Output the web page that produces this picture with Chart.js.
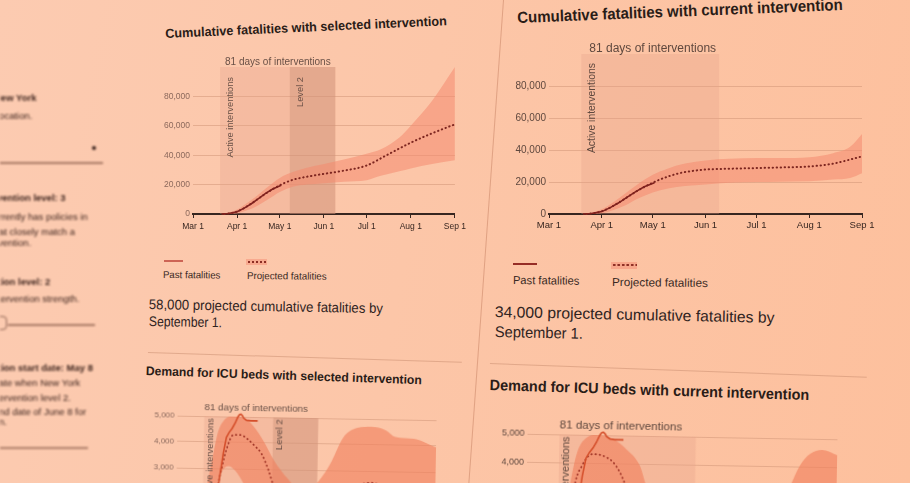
<!DOCTYPE html>
<html>
<head>
<meta charset="utf-8">
<script src="https://cdn.jsdelivr.net/npm/chart.js@4.4.1/dist/chart.umd.min.js"></script>
<style>
  body { margin:0; width:910px; height:483px; overflow:hidden; position:relative;
         background: linear-gradient(100deg, #fccbb1 0%, #fcc6a8 45%, #fdc09d 100%);
         font-family: "Liberation Sans", Arial, sans-serif; }
  .abs { position:absolute; white-space:nowrap; transform-origin:0 0; line-height:1; }
  .ttl { font-weight:bold; color:#2a1c17; }
  .par { color:#2f231e; }
  .leg { color:#3a2a24; }
  .side { position:absolute; left:0; top:0; width:115px; height:483px; overflow:hidden; filter: blur(1.1px); color:#3f261f; font-size:9.5px; }
  .side div { position:absolute; white-space:nowrap; line-height:1; }
  .side b { font-weight:bold; }
  canvas { position:absolute; transform-origin:0 0; }
</style>
</head>
<body>

<div class="side">
  <div style="left:-6px;top:93px"><b>New York</b></div>
  <div style="left:-3px;top:111px">location.</div>
  <div style="left:92px;top:146px;width:4px;height:4px;border-radius:2px;background:#3a231d"></div>
  <div style="left:0;top:162px;width:103px;height:2px;background:rgba(110,65,50,0.6)"></div>
  <div style="left:-3px;top:193px"><b>vention level: 3</b></div>
  <div style="left:-1px;top:212px">rrently has policies in</div>
  <div style="left:-1px;top:227px">at closely match a</div>
  <div style="left:-2px;top:238px">vention.</div>
  <div style="left:-2px;top:277px"><b>tion level: 2</b></div>
  <div style="left:-2px;top:294px">tervention strength.</div>
  <div style="left:-8px;top:316px;width:13px;height:12px;border:1.5px solid rgba(100,60,48,0.75);border-radius:4px"></div>
  <div style="left:8px;top:324px;width:87px;height:2px;background:rgba(110,65,50,0.6)"></div>
  <div style="left:-2px;top:363px"><b>tion start date: May 8</b></div>
  <div style="left:-1px;top:378px">ate when New York</div>
  <div style="left:-1px;top:393px">ervention level 2.</div>
  <div style="left:-1px;top:407px">nd date of June 8 for</div>
  <div style="left:-1px;top:417px">n.</div>
  <div style="left:0;top:447px;width:88px;height:2px;background:rgba(110,65,50,0.55)"></div>
</div>

<div class="abs" style="left:503px;top:0;width:1px;height:490px;background:rgba(195,125,95,0.5);transform:rotate(4.1deg)"></div>
<div class="abs" style="left:148px;top:352px;width:314px;height:1px;background:rgba(200,140,110,0.5);transform:rotate(1.8deg)"></div>
<div class="abs" style="left:490px;top:363px;width:377px;height:1px;background:rgba(200,140,110,0.5);transform:rotate(2.1deg)"></div>

<div class="abs ttl" data-w="282" data-r="-2.6" style="left:165px;top:27px;font-size:13px">Cumulative fatalities with selected intervention</div>
<div class="abs ttl" data-w="326" data-r="-2.3" style="left:517px;top:10px;font-size:16px">Cumulative fatalities with current intervention</div>
<div class="abs ttl" data-w="276" data-r="1.9" style="left:146px;top:365px;font-size:12.5px">Demand for ICU beds with selected intervention</div>
<div class="abs ttl" data-w="320" data-r="1.8" style="left:490px;top:377px;font-size:15px">Demand for ICU beds with current intervention</div>

<div class="abs par" data-w="234" data-r="1" style="left:149px;top:297px;font-size:14px">58,000 projected cumulative fatalities by</div>
<div class="abs par" data-w="73" data-r="1" style="left:149px;top:314px;font-size:14px">September 1.</div>
<div class="abs par" data-w="280" data-r="1.2" style="left:495px;top:304px;font-size:15.5px">34,000 projected cumulative fatalities by</div>
<div class="abs par" data-w="88" data-r="1.2" style="left:495px;top:324px;font-size:15.5px">September 1.</div>

<div class="abs" style="left:164px;top:260px;width:19px;height:2px;background:rgb(205,100,85)"></div>
<div class="abs" style="left:246px;top:259px;width:21px;height:6px;background:rgba(244,140,115,0.5)"></div>
<div class="abs" style="left:247px;top:260px;width:20px;height:4px;background-image:radial-gradient(circle, rgb(140,45,35) 0.9px, transparent 1.3px);background-size:4px 4px"></div>
<div class="abs leg" data-w="57" data-r="0.5" style="left:163px;top:270px;font-size:10px">Past fatalities</div>
<div class="abs leg" data-w="80" data-r="0.5" style="left:247px;top:271px;font-size:10px">Projected fatalities</div>

<div class="abs" style="left:513px;top:263px;width:24px;height:2px;background:rgb(150,45,38)"></div>
<div class="abs" style="left:611px;top:262px;width:26px;height:7px;background:rgba(244,140,115,0.5)"></div>
<div class="abs" style="left:612px;top:263px;width:25px;height:4px;background-image:radial-gradient(circle, rgb(140,45,35) 1px, transparent 1.4px);background-size:4.5px 4px"></div>
<div class="abs leg" data-w="66" data-r="0.6" style="left:513px;top:275px;font-size:11.5px">Past fatalities</div>
<div class="abs leg" data-w="96" data-r="0.6" style="left:612px;top:277px;font-size:11.5px">Projected fatalities</div>

<canvas id="c1" width="330" height="200" style="left:140px;top:40px"></canvas>
<canvas id="c2" width="400" height="210" style="left:490px;top:20px"></canvas>
<canvas id="c3" width="330" height="170" style="left:140px;top:390px;transform:rotate(1deg)"></canvas>
<canvas id="c4" width="400" height="190" style="left:480px;top:405px;transform:rotate(1deg)"></canvas>

<script>
// days since Mar 1
const monthDays = [0, 31, 61, 92, 122, 153, 184];
const monthLabels = ['Mar 1', 'Apr 1', 'May 1', 'Jun 1', 'Jul 1', 'Aug 1', 'Sep 1'];
const fatalityTicks = [0, 20000, 40000, 60000, 80000];
const icuTicks = [0, 1000, 2000, 3000, 4000, 5000];

// interventions: Mar 20 -> Jun 8 (81 days), level 2 from May 8
const ivStart = 19;
const ivEnd = 100;
const level2Start = 68;

// cumulative fatalities
const pastDays = [20, 25, 31, 36, 41, 46, 51, 56, 62];
const pastDeaths = [0, 300, 1500, 4000, 7000, 10500, 14000, 17000, 19500];

const projDays = [22, 28, 34, 40, 46, 52, 58, 64, 71, 78, 85, 92, 106, 122, 136, 153, 167, 184];
const projSelected = [0, 800, 3000, 6500, 10500, 14500, 18000, 21000, 23500, 25000, 26200, 27300, 29500, 33000, 40000, 48500, 54500, 61000];
const projCurrent = [0, 800, 3000, 6500, 10500, 14500, 18000, 21000, 23800, 25800, 27000, 27800, 28300, 28700, 29100, 29700, 31500, 36000];

const bandSelDays = [22, 31, 38, 45, 52, 61, 70, 80, 92, 106, 122, 132, 145, 153, 168, 184];
const bandSelHigh = [0, 3000, 7500, 12500, 18000, 24500, 28500, 31500, 34000, 37000, 41000, 44000, 52000, 60000, 77000, 100000];
const bandSelLow = [0, 500, 2500, 5500, 9500, 15000, 18500, 20000, 21000, 22000, 23000, 26000, 29000, 31000, 34000, 36500];

const bandCurDays = [22, 31, 38, 45, 52, 61, 70, 80, 92, 106, 122, 136, 153, 167, 177, 184];
const bandCurHigh = [0, 3000, 7500, 13000, 18500, 24500, 28500, 31500, 33500, 34500, 35000, 35000, 35500, 38000, 42000, 50000];
const bandCurLow = [0, 500, 2500, 5500, 9500, 13500, 16000, 17500, 18500, 19500, 20000, 20200, 20500, 21500, 22500, 25500];

// ICU beds
const icuPastDays = [18, 22, 26, 29, 31, 33, 35, 37, 39, 41, 43, 44, 45, 46, 47, 49, 52, 57];
const icuPast = [0, 300, 1000, 2000, 2800, 3600, 4200, 4400, 4550, 4750, 5000, 5080, 5100, 5050, 4950, 4870, 4850, 4850];

const icuSelDays = [14, 20, 25, 30, 35, 40, 45, 50, 55, 60, 65, 70, 80, 90, 100, 110, 120, 130, 138, 146, 155, 165, 175, 184];
const icuSelected = [0, 400, 1200, 2500, 3700, 4300, 4300, 4150, 3900, 3600, 3000, 2200, 1000, 700, 900, 1400, 2050, 2450, 2550, 2450, 2200, 1900, 1700, 1500];
const icuBandSelDays = [12, 18, 22, 26, 29, 33, 37, 42, 47, 52, 61, 69, 79, 88, 96, 104, 110, 118, 128, 138, 148, 155, 168, 184];
const icuBandSelHigh = [0, 1200, 2400, 3600, 4400, 4850, 5000, 5030, 4950, 4770, 4120, 3350, 2650, 2200, 2300, 2800, 3350, 4270, 4650, 4700, 4580, 4330, 4270, 3950];
const icuBandSelLow = [0, 300, 900, 1700, 2400, 2950, 3100, 2900, 2500, 2000, 1300, 800, 400, 250, 250, 350, 500, 800, 1100, 1300, 1300, 1200, 1100, 1000];

const icuCurDays = [14, 20, 25, 29, 33, 36, 39, 43, 47, 51, 55, 58, 62, 70, 80, 100, 120, 140, 160, 184];
const icuCurrent = [0, 700, 1900, 3400, 3970, 4250, 4340, 4320, 4240, 4080, 3750, 3380, 2800, 1800, 1000, 400, 300, 600, 1300, 2200];
const icuBandCurDays = [14, 20, 24, 27, 30, 35, 41, 51, 59, 67, 71, 80, 100, 120, 140, 150, 156, 162, 168, 175, 184];
const icuBandCurHigh = [0, 1200, 2600, 3700, 4450, 4900, 5000, 4870, 4520, 3970, 3280, 2000, 800, 700, 1400, 2300, 3280, 4070, 4480, 4620, 4450];
const icuBandCurLow = [0, 300, 900, 1500, 2100, 2800, 3000, 2700, 2200, 1600, 1200, 700, 200, 150, 300, 500, 700, 900, 1100, 1300, 1500];

Chart.defaults.font.family = '"Liberation Sans", Arial, sans-serif';

const dark = 'rgb(55,38,32)';
const gridColor = 'rgba(205,145,115,0.5)';

function pts(xs, ys) {
  return xs.map((x, i) => ({ x: x, y: ys[i] }));
}

const interventionPlugin = {
  id: 'intervention',
  beforeDatasetsDraw(chart, args, o) {
    const ctx = chart.ctx, a = chart.chartArea, x = chart.scales.x;
    const x0 = x.getPixelForValue(ivStart), x1 = x.getPixelForValue(ivEnd);
    ctx.save();
    ctx.fillStyle = o.fill;
    ctx.fillRect(x0, a.top, x1 - x0, a.bottom - a.top);
    if (o.level2) {
      const x2 = x.getPixelForValue(level2Start);
      ctx.fillStyle = o.level2Fill;
      ctx.fillRect(x2, a.top, x1 - x2, a.bottom - a.top);
    }
    ctx.restore();
  },
  afterDatasetsDraw(chart, args, o) {
    const ctx = chart.ctx, a = chart.chartArea, x = chart.scales.x;
    const x0 = x.getPixelForValue(ivStart);
    ctx.save();
    ctx.fillStyle = o.textColor;
    ctx.font = o.titleSize + 'px "Liberation Sans", Arial, sans-serif';
    ctx.textAlign = 'left';
    ctx.textBaseline = 'alphabetic';
    ctx.fillText('81 days of interventions', x0 + o.titleDx, a.top - o.titleDy);

    ctx.font = o.vSize + 'px "Liberation Sans", Arial, sans-serif';
    ctx.textAlign = 'right';
    ctx.textBaseline = 'top';
    ctx.save();
    ctx.translate(x0 + o.vx, a.top + o.vy);
    ctx.rotate(-Math.PI / 2);
    ctx.fillText('Active interventions', 0, 0);
    ctx.restore();
    if (o.level2) {
      const x2 = x.getPixelForValue(level2Start);
      ctx.save();
      ctx.translate(x2 + o.vx, a.top + o.vy);
      ctx.rotate(-Math.PI / 2);
      ctx.fillText('Level 2', 0, 0);
      ctx.restore();
    }
    ctx.restore();
  }
};

function lineSets(past, proj, high, low, c) {
  return [
    { data: past, borderColor: c.past, borderWidth: c.pastW, pointRadius: 0, fill: false, clip: 12 },
    { data: proj, borderColor: c.proj, borderWidth: c.projW, borderDash: c.dash, borderCapStyle: 'round',
      pointRadius: 0, fill: false, cubicInterpolationMode: 'monotone', clip: 12 },
    { data: high, borderColor: 'transparent', borderWidth: 0, pointRadius: 0, fill: '+1',
      backgroundColor: c.band, cubicInterpolationMode: 'monotone', clip: 12 },
    { data: low, borderColor: 'transparent', borderWidth: 0, pointRadius: 0, fill: false,
      cubicInterpolationMode: 'monotone', clip: 12 }
  ];
}

function makeChart(id, cfg) {
  return new Chart(document.getElementById(id), {
    type: 'line',
    data: { datasets: cfg.datasets },
    options: {
      responsive: false,
      animation: false,
      events: [],
      layout: { padding: { top: cfg.top, right: cfg.right, left: 0, bottom: 0 } },
      plugins: { legend: { display: false }, tooltip: { enabled: false }, intervention: cfg.iv },
      scales: {
        x: {
          type: 'linear', min: 0, max: 184,
          afterBuildTicks: ax => { ax.ticks = monthDays.map(v => ({ value: v })); },
          afterFit: s => { s.height = cfg.xh; },
          ticks: { autoSkip: false, maxRotation: 0, padding: cfg.xpad, color: dark, font: { size: cfg.xfs },
                   callback: v => monthLabels[monthDays.indexOf(v)] },
          grid: { drawOnChartArea: false, drawTicks: true, tickLength: 4, color: dark },
          border: { display: true, color: dark, width: 2 }
        },
        y: {
          min: 0, max: cfg.ymax,
          afterBuildTicks: ax => { ax.ticks = cfg.yticks.map(v => ({ value: v })); },
          afterFit: s => { s.width = cfg.yw; },
          ticks: { padding: 3, color: cfg.ycolor, font: { size: cfg.yfs },
                   callback: v => v.toLocaleString('en-US') },
          grid: { color: gridColor, drawTicks: false, lineWidth: 1 },
          border: { display: false }
        }
      }
    },
    plugins: [interventionPlugin]
  });
}

const fatColors = { past: 'rgb(128,34,30)', pastW: 1.6, proj: 'rgb(125,38,32)', projW: 2, dash: [0.4, 3.6],
                    band: 'rgba(244,138,112,0.55)' };
const icuColors = { past: 'rgb(212,78,42)', pastW: 1.6, proj: 'rgb(160,52,38)', projW: 1.8, dash: [0.4, 3.8],
                    band: 'rgba(240,125,90,0.6)' };

makeChart('c1', {
  datasets: lineSets(pts(pastDays, pastDeaths), pts(projDays, projSelected),
                     pts(bandSelDays, bandSelHigh), pts(bandSelDays, bandSelLow), fatColors),
  top: 27, right: 14, xh: 26, xpad: 4, yw: 53, ymax: 100000, yticks: fatalityTicks, xfs: 8.5, yfs: 8.5,
  ycolor: 'rgb(140,105,92)',
  iv: { fill: 'rgba(228,160,135,0.3)', level2: true, level2Fill: 'rgba(200,140,112,0.38)',
        textColor: 'rgb(105,80,70)', titleSize: 10, titleDx: 5, titleDy: 2, vSize: 9.3, vx: 6, vy: 10 }
});

makeChart('c2', {
  datasets: lineSets(pts(pastDays, pastDeaths), pts(projDays, projCurrent),
                     pts(bandCurDays, bandCurHigh), pts(bandCurDays, bandCurLow), fatColors),
  top: 34, right: 28, xh: 16, xpad: 2, yw: 59, ymax: 100000, yticks: fatalityTicks, xfs: 9.5, yfs: 10,
  ycolor: 'rgb(95,72,62)',
  iv: { fill: 'rgba(228,160,135,0.3)', level2: false,
        textColor: 'rgb(95,72,62)', titleSize: 12, titleDx: 8, titleDy: 2, vSize: 10.4, vx: 6, vy: 9 }
});

makeChart('c3', {
  datasets: lineSets(pts(icuPastDays, icuPast), pts(icuSelDays, icuSelected),
                     pts(icuBandSelDays, icuBandSelHigh), pts(icuBandSelDays, icuBandSelLow), icuColors),
  top: 25, right: 33, xh: 15, xpad: 1, yw: 38, ymax: 5000, yticks: icuTicks, xfs: 8.5, yfs: 8,
  ycolor: 'rgb(140,105,92)',
  iv: { fill: 'rgba(228,160,135,0.3)', level2: true, level2Fill: 'rgba(200,140,112,0.38)',
        textColor: 'rgb(105,80,70)', titleSize: 9.8, titleDx: 0, titleDy: 6, vSize: 9.5, vx: 2, vy: 2 }
});

makeChart('c4', {
  datasets: lineSets(pts(icuPastDays, icuPast), pts(icuCurDays, icuCurrent),
                     pts(icuBandCurDays, icuBandCurHigh), pts(icuBandCurDays, icuBandCurLow), icuColors),
  top: 28, right: 42, xh: 17, xpad: 1, yw: 48, ymax: 5000, yticks: icuTicks, xfs: 9.5, yfs: 9,
  ycolor: 'rgb(95,72,62)',
  iv: { fill: 'rgba(228,160,135,0.3)', level2: false,
        textColor: 'rgb(95,72,62)', titleSize: 11.6, titleDx: 0, titleDy: 6, vSize: 11, vx: 1, vy: 2 }
});

// squeeze the page texts to the widths they have in the photo
document.querySelectorAll('[data-w]').forEach(el => {
  const k = parseFloat(el.dataset.w) / el.offsetWidth;
  el.style.transform = 'rotate(' + el.dataset.r + 'deg) scaleX(' + k + ')';
});
</script>
</body>
</html>
